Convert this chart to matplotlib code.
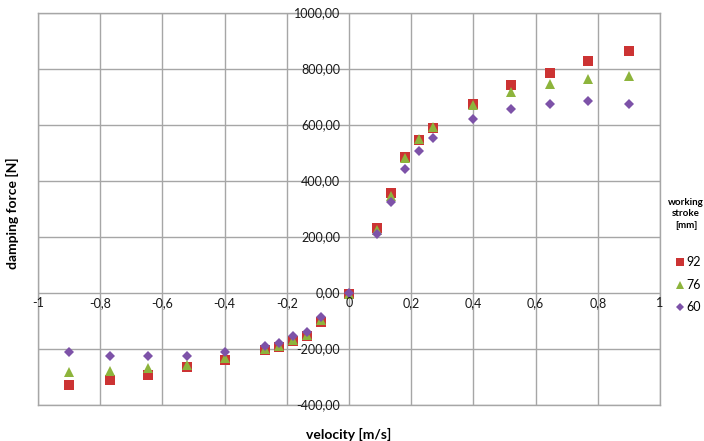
import matplotlib.pyplot as plt
import numpy as np

plt.rcParams['font.family'] = ['Lato', 'DejaVu Sans']

# velocidades medidas [m/s]
velocity = [-0.9, -0.77, -0.645, -0.52, -0.4, -0.27, -0.225, -0.18, -0.135, -0.09, 0.0,
            0.09, 0.135, 0.18, 0.225, 0.27, 0.4, 0.52, 0.645, 0.77, 0.9]

# fuerza de amortiguamiento [N] por carrera de trabajo
force_92 = [-327, -311, -293, -265, -239, -204, -192, -172, -155, -102, -5,
            232, 356, 485, 546, 588, 676, 742, 786, 827, 864]
force_76 = [-282, -279, -269, -256, -233, -200, -190, -168, -150, -95, -3,
            225, 346, 481, 550, 592, 672, 719, 746, 764, 776]
force_60 = [-210, -224, -224, -224, -212, -188, -179, -155, -140, -87, 0,
            211, 326, 443, 508, 553, 621, 656, 674, 686, 676]

x_ticks = [-1, -0.8, -0.6, -0.4, -0.2, 0, 0.2, 0.4, 0.6, 0.8, 1]
y_ticks = [-400, -200, 0, 200, 400, 600, 800, 1000]

series = [
    ('92', force_92, 's', '#cc3333', 6.5),
    ('76', force_76, '^', '#8db43c', 7),
    ('60', force_60, 'D', '#7d52a8', 5),
]

fig = plt.figure(figsize=(7.04, 4.41), dpi=100)
ax = fig.add_axes([38 / 704, 1 - 405 / 441, 622 / 704, 392 / 441])

grid_color = '#a6a6a6'
for xv in x_ticks:
    ax.axvline(xv, color=grid_color, linewidth=1, zorder=1)
for yv in y_ticks:
    ax.axhline(yv, color=grid_color, linewidth=1, zorder=1)

for nombre, valores, marcador, color, tam in series:
    ax.plot(velocity, valores, linestyle='none', marker=marcador, color=color,
            markersize=tam, markeredgewidth=0, label=nombre, zorder=3)

ax.set_xlim(-1, 1)
ax.set_ylim(-400, 1000)
ax.set_xticks([])
ax.set_yticks([])
for s in ax.spines.values():
    s.set_color(grid_color)
    s.set_linewidth(1)

# etiquetas de los ejes dentro del grafico (estilo Excel)
def fmt(v, dec):
    if dec == 0:
        return f'{v:g}'.replace('.', ',')
    return f'{v:.2f}'.replace('.', ',')

for xv in x_ticks:
    ax.text(xv, -14, fmt(xv, 0), ha='center', va='top', fontsize=9, color='#1a1a1a', zorder=4)
for yv in y_ticks:
    ax.text(-0.028, yv, fmt(yv, 2), ha='right', va='center', fontsize=9, color='#1a1a1a', zorder=4)

fig.text(12 / 704, 1 - 213 / 441, 'damping force [N]', rotation=90, ha='center', va='center',
         fontsize=10, fontweight='bold')
fig.text(349 / 704, 1 - 434 / 441, 'velocity [m/s]', ha='center', va='center',
         fontsize=10, fontweight='bold')

# leyenda manual
fig.text(686 / 704, 1 - 214 / 441, 'working\nstroke\n[mm]', ha='center', va='center',
         fontsize=7, fontweight='bold', linespacing=1.3)
ley_y = [262, 285, 307]
for (nombre, valores, marcador, color, tam), py in zip(series, ley_y):
    fig.lines.append(plt.Line2D([680 / 704], [1 - py / 441], transform=fig.transFigure,
                                marker=marcador, color=color, markersize=tam * 0.8,
                                markeredgewidth=0, linestyle='none'))
    fig.text(686 / 704, 1 - py / 441, nombre, ha='left', va='center', fontsize=9)

fig.savefig('out.png', dpi=100)
